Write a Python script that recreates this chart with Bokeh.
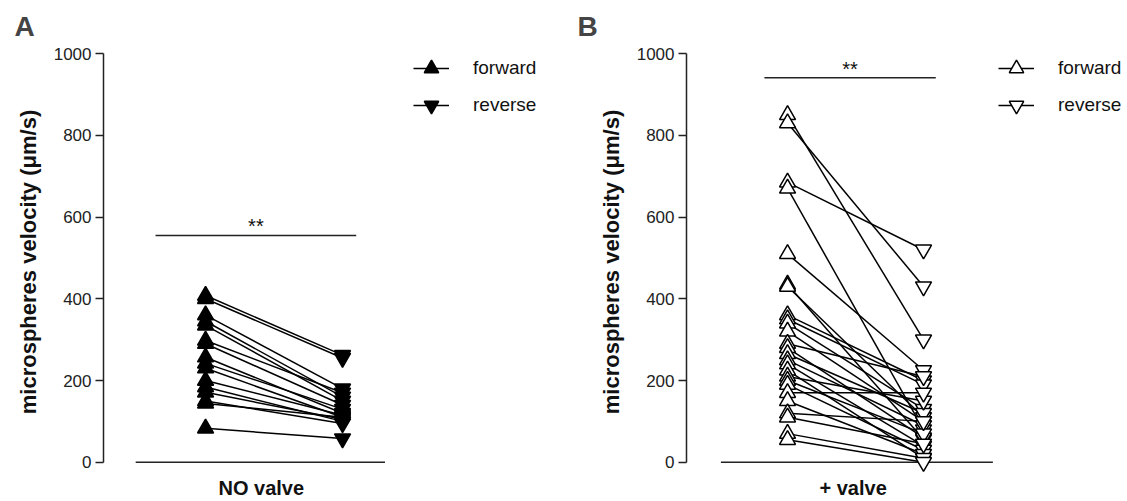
from bokeh.plotting import figure
from bokeh.layouts import row
from bokeh.models import Legend, LegendItem, Title, ColumnDataSource
from bokeh.core.properties import value
from bokeh.embed import file_html
from bokeh.resources import INLINE

FONT = "Liberation Sans"

# ---------------- data ----------------
conditions = ["NO valve", "+ valve"]
series_names = ["forward", "reverse"]
y_ticks = [0, 200, 400, 600, 800, 1000]

a_forward = [408, 400, 360, 345, 335, 298, 290, 257, 242, 230, 200, 184, 171, 150, 144, 83]
a_reverse = [262, 255, 180, 160, 150, 170, 140, 120, 130, 110, 115, 100, 105, 95, 110, 58]

b_forward = [850, 830, 685, 670, 510, 435, 430, 360, 350, 340, 320, 290, 280, 265,
             250, 240, 225, 210, 200, 190, 170, 150, 120, 110, 70, 55]
b_reverse = [300, 430, 520, 80, 225, 56, 110, 200, 190, 130, 100, 210, 60, 120,
             90, 40, 10, 150, 70, 30, 170, 20, 100, 45, 10, 0]

a_sig_level = 555
b_sig_level = 941
sig_text = "**"


def make_panel(letter, xlabel, fwd, rev, filled, sig_level, sig_span, width,
               left_border, x_range, axis_span, legend_x, xlabel_offset):
    p = figure(width=width, height=501, output_backend="svg", toolbar_location=None,
               x_range=x_range, y_range=(-30, 1010),
               min_border_left=left_border, min_border_right=0,
               min_border_top=47, min_border_bottom=27)
    p.outline_line_color = None
    p.xgrid.visible = False
    p.ygrid.visible = False
    p.background_fill_color = "white"
    p.border_fill_color = "white"

    # y axis
    ya = p.yaxis[0]
    ya.ticker = y_ticks
    ya.bounds = (0, 1000)
    ya.axis_line_width = 1.5
    ya.axis_line_color = "#222222"
    ya.major_tick_line_color = "#222222"
    ya.major_tick_line_width = 1.5
    ya.major_tick_out = 8
    ya.major_tick_in = 0
    ya.minor_tick_line_color = None
    ya.major_label_text_font = FONT
    ya.major_label_text_font_size = "17px"
    ya.major_label_text_color = "#222222"
    ya.major_label_standoff = 4
    ya.axis_label = "microspheres velocity (\u03bcm/s)"
    ya.axis_label_text_font = FONT
    ya.axis_label_text_font_style = "bold"
    ya.axis_label_text_font_size = "22px"
    ya.axis_label_text_color = "#111111"
    ya.axis_label_standoff = 10

    # x axis hidden; its line drawn at y=0, label as a title below
    p.xaxis.visible = False

    p.segment(x0=[axis_span[0]], y0=[0], x1=[axis_span[1]], y1=[0],
              line_color="#222222", line_width=1.5)
    p.add_layout(Title(text=xlabel, text_font=FONT, text_font_size="20px",
                       text_font_style="bold", align="left", offset=xlabel_offset,
                       standoff=0, text_color="#111111"), "below")

    n = len(fwd)
    src = ColumnDataSource(dict(x0=[0] * n, x1=[1] * n, f=fwd, r=rev))
    seg = p.segment(x0="x0", y0="f", x1="x1", y1="r", source=src,
                    line_color="black", line_width=1.5)
    fill = "black" if filled else "white"
    rf = p.scatter(x="x0", y="f", source=src, marker="triangle", size=16,
                   fill_color=fill, line_color="black", line_width=1.5)
    rr = p.scatter(x="x1", y="r", source=src, marker="inverted_triangle", size=16,
                   fill_color=fill, line_color="black", line_width=1.5)

    # significance bar
    p.segment(x0=[sig_span[0]], y0=[sig_level], x1=[sig_span[1]], y1=[sig_level],
              line_color="#222222", line_width=1.5)
    p.text(x=[(sig_span[0] + sig_span[1]) / 2], y=[sig_level], text=[sig_text],
           text_font=value(FONT), text_font_size="20px", text_align="center",
           text_baseline="bottom", y_offset=2, text_color="#111111")

    legend = Legend(items=[LegendItem(label=series_names[0], renderers=[seg, rf]),
                           LegendItem(label=series_names[1], renderers=[seg, rr])],
                    location=(legend_x, 351), padding=0, margin=0, spacing=1,
                    glyph_width=36, glyph_height=36, label_standoff=24,
                    label_text_font=FONT, label_text_font_size="19px",
                    label_text_color="#111111",
                    border_line_color=None, background_fill_alpha=0)
    p.add_layout(legend)

    p.add_layout(Title(text=letter, text_font=FONT, text_font_size="28px",
                       text_font_style="bold", align="left",
                       offset=-(left_border - 14), standoff=16), "above")
    return p


pa = make_panel("A", conditions[0], a_forward, a_reverse, True, a_sig_level,
                (-0.365, 1.10), 563, 103, (-0.745, 2.613), (-0.51, 1.31), 310, 115)
pb = make_panel("B", conditions[1], b_forward, b_reverse, False, b_sig_level,
                (-0.17, 1.09), 564, 123, (-0.743, 2.50), (-0.49, 1.51), 312, 133)

layout = row(pa, pb)
open("out.html", "w").write(file_html(layout, INLINE))
